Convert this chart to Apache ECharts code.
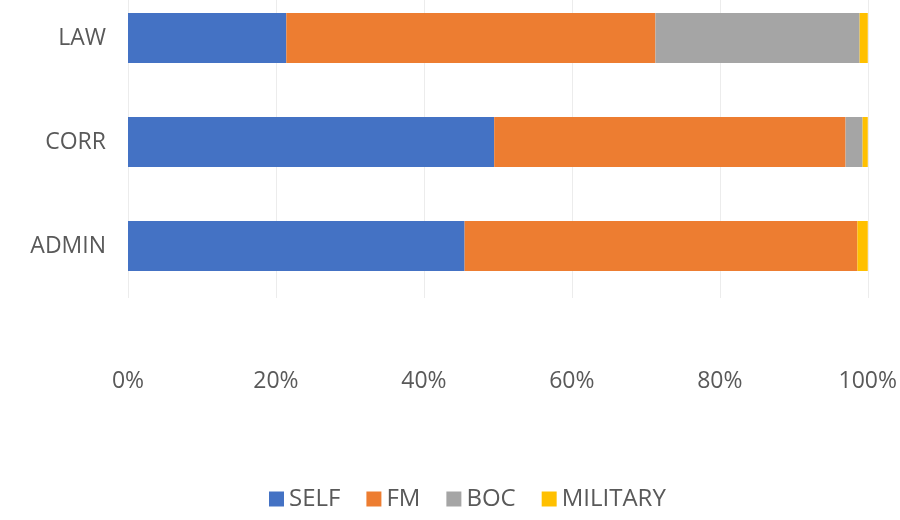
<!DOCTYPE html>
<html>
<head>
<meta charset="utf-8">
<script src="https://cdn.jsdelivr.net/npm/echarts@6/dist/echarts.min.js"></script>
<style>
html,body{margin:0;padding:0;background:#fff;overflow:hidden;}
#chart{position:relative;top:-14px;width:900px;height:534px;}
</style>
</head>
<body>
<div id="chart"></div>
<script>
const categories = ['ADMIN', 'CORR', 'LAW'];
const seriesNames = ['SELF', 'FM', 'BOC', 'MILITARY'];
const selfValues = [45.5, 49.5, 21.4];
const fmValues = [53.1, 47.5, 49.9];
const bocValues = [0, 2.3, 27.6];
const militaryValues = [1.4, 0.7, 1.1];
const xTicks = ['0%', '20%', '40%', '60%', '80%', '100%'];
const colors = ['#4472C4', '#ED7D31', '#A5A5A5', '#FFC000'];

const valuesBySeries = [selfValues, fmValues, bocValues, militaryValues];
const chart = echarts.init(document.getElementById('chart'));
const font = '"Open Sans", "Liberation Sans", sans-serif';
chart.setOption({
  animation: false,
  textStyle: { fontFamily: font },
  color: colors,
  grid: { left: 128, right: 22, top: 0, bottom: 222 },
  legend: {
    bottom: 4,
    left: 264,
    itemWidth: 15,
    itemHeight: 15,
    itemGap: 26,
    icon: 'rect',
    textStyle: { fontSize: 24, color: '#595959', fontFamily: font },
    data: seriesNames
  },
  xAxis: {
    type: 'value',
    min: 0,
    max: 100,
    interval: 20,
    axisLine: { show: false },
    axisTick: { show: false },
    splitLine: { show: true, lineStyle: { color: '#ececec' } },
    axisLabel: {
      margin: 72,
      fontSize: 23,
      color: '#595959',
      formatter: function (v) { return xTicks[Math.round(v / 20)]; }
    }
  },
  yAxis: {
    type: 'category',
    data: categories,
    axisLine: { show: false },
    axisTick: { show: false },
    axisLabel: { fontSize: 23, color: '#595959', margin: 22 }
  },
  series: seriesNames.map(function (name, i) {
    return {
      name: name,
      type: 'bar',
      stack: 'total',
      barWidth: 50,
      data: valuesBySeries[i]
    };
  })
});
</script>
</body>
</html>
